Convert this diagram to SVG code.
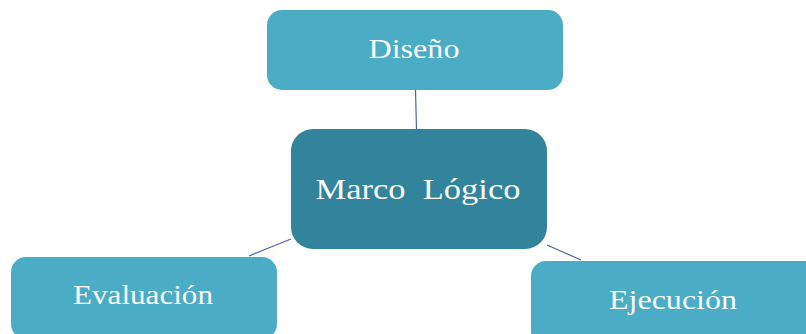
<svg xmlns="http://www.w3.org/2000/svg" width="806" height="334" viewBox="0 0 806 334">
<style>
.light{fill:#4BACC6}
.dark{fill:#31849B}
.lbl{font-family:"Liberation Serif","Times New Roman",serif;fill:#FAFAFA;text-anchor:middle}
.conn{stroke:#4A66AC;stroke-width:1.2;fill:none}
</style>
<rect width="806" height="334" fill="#FFFFFF"/>
<g id="connectors">
<line class="conn" x1="415.5" y1="90" x2="416.5" y2="130"/>
<line class="conn" x1="291" y1="239" x2="249" y2="256"/>
<line class="conn" x1="547" y1="245" x2="581" y2="260"/>
</g>
<g id="diseno">
<rect class="light" x="267" y="10" width="296" height="80" rx="15"/>
<text class="lbl" x="414" y="58" font-size="27" textLength="91" lengthAdjust="spacingAndGlyphs">Diseño</text>
</g>
<g id="marco">
<rect class="dark" x="291" y="129" width="256" height="120" rx="22"/>
<text class="lbl" x="418" y="199" font-size="30" textLength="205" lengthAdjust="spacingAndGlyphs" style="white-space:pre">Marco  Lógico</text>
</g>
<g id="evaluacion">
<rect class="light" x="11" y="257" width="266" height="82" rx="15"/>
<text class="lbl" x="143" y="304" font-size="27" textLength="140" lengthAdjust="spacingAndGlyphs">Evaluación</text>
</g>
<g id="ejecucion">
<rect class="light" x="531" y="261" width="295" height="85" rx="15"/>
<text class="lbl" x="673" y="309" font-size="27" textLength="128" lengthAdjust="spacingAndGlyphs">Ejecución</text>
</g>
</svg>
